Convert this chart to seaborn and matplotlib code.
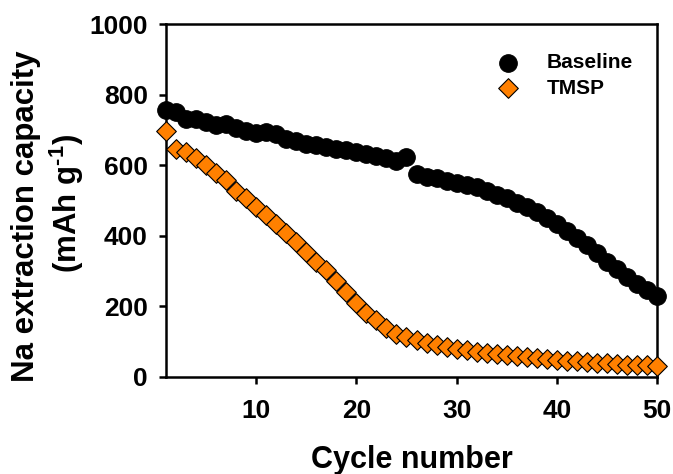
import numpy as np
import pandas as pd
import matplotlib
matplotlib.use("Agg")
import matplotlib.pyplot as plt
import seaborn as sns

cycles = list(range(1, 51))
baseline = [756, 750, 730, 732, 723, 714, 717, 704, 698, 692,
            695, 688, 673, 669, 660, 656, 651, 647, 643, 638,
            632, 626, 619, 612, 623, 575, 567, 563, 556, 550,
            544, 537, 528, 516, 506, 494, 481, 468, 450, 433,
            414, 393, 374, 350, 327, 305, 284, 263, 246, 229]
tmsp = [697, 645, 638, 619, 601, 579, 558, 528, 506, 481,
        459, 433, 409, 383, 355, 327, 303, 273, 242, 210,
        182, 161, 138, 122, 112, 105, 97, 91, 86, 78,
        76, 72, 69, 65, 62, 59, 56, 53, 50, 48,
        46, 44, 42, 41, 39, 37, 35, 34, 33, 31]
series_names = ["Baseline", "TMSP"]
x_ticks = [10, 20, 30, 40, 50]
y_ticks = [0, 200, 400, 600, 800, 1000]

sns.set_style("ticks")
plt.rcParams['font.family'] = ['Liberation Sans', 'DejaVu Sans']
plt.rcParams['font.weight'] = 'bold'
plt.rcParams['text.color'] = 'black'
plt.rcParams['axes.labelcolor'] = 'black'
plt.rcParams['xtick.color'] = 'black'
plt.rcParams['ytick.color'] = 'black'
plt.rcParams['axes.edgecolor'] = 'black'
plt.rcParams['mathtext.fontset'] = 'custom'
plt.rcParams['mathtext.rm'] = 'Liberation Sans:bold'
plt.rcParams['mathtext.bf'] = 'Liberation Sans:bold'
plt.rcParams['mathtext.it'] = 'Liberation Sans:bold'

W, H = 673, 474
fig = plt.figure(figsize=(W/100, H/100), dpi=100)
ax = fig.add_axes([166/W, 1-377/H, (657-166)/W, (377-24)/H])

df_b = pd.DataFrame({"cycle": cycles, "cap": baseline})
df_t = pd.DataFrame({"cycle": cycles, "cap": tmsp})

sns.scatterplot(data=df_b, x="cycle", y="cap", marker="o", s=160, color="black",
                edgecolor="black", linewidth=0.8, ax=ax, label=series_names[0],
                clip_on=False, zorder=3)
sns.scatterplot(data=df_t, x="cycle", y="cap", marker="D", s=100, color="#FF8000",
                edgecolor="black", linewidth=0.8, ax=ax, label=series_names[1],
                clip_on=False, zorder=4)

ax.set_xlim(1, 50)
ax.set_ylim(0, 1000)
ax.set_xticks(x_ticks)
ax.set_yticks(y_ticks)
ax.tick_params(axis='both', direction='out', length=5, width=1.8, labelsize=19)
ax.tick_params(axis='x', pad=11)
ax.tick_params(axis='y', pad=8)
for lab in ax.get_xticklabels() + ax.get_yticklabels():
    lab.set_fontweight('bold')
for sp in ax.spines.values():
    sp.set_linewidth(1.8)
    sp.set_visible(True)

ax.set_xlabel("Cycle number", fontsize=22, fontweight='bold', labelpad=16)
ax.set_ylabel("")
fig.text(26.5/W, 1-216/H, "Na extraction capacity", rotation=90, fontsize=22.5,
         fontweight='bold', ha='center', va='center')
fig.text(66.5/W, 1-203/H, "(mAh g$^{\\text{-}1}$)", rotation=90, fontsize=22.5,
         fontweight='bold', ha='center', va='center')

leg = ax.legend(loc='upper right', bbox_to_anchor=(0.99, 0.97), frameon=False,
                prop={'size': 15, 'weight': 'bold'}, handletextpad=0.9,
                labelspacing=0.3)

fig.savefig("out.png", dpi=100)
